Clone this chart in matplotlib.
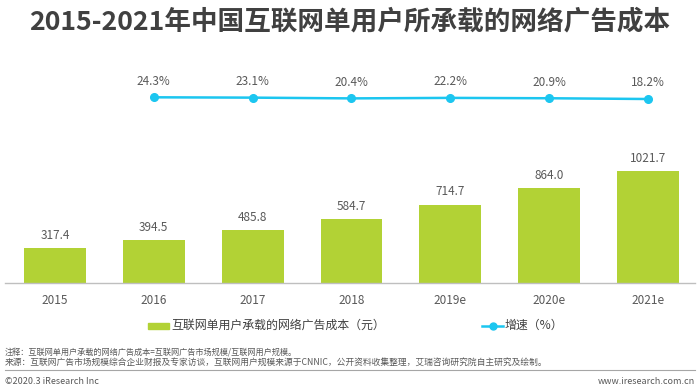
import matplotlib
matplotlib.use("Agg")
import matplotlib.pyplot as plt
from matplotlib.lines import Line2D

plt.rcParams['font.family'] = ['Noto Sans CJK SC', 'DejaVu Sans']

categories = ["2015", "2016", "2017", "2018", "2019e", "2020e", "2021e"]
cost = [317.4, 394.5, 485.8, 584.7, 714.7, 864.0, 1021.7]
growth_cats = ["2016", "2017", "2018", "2019e", "2020e", "2021e"]
growth = [24.3, 23.1, 20.4, 22.2, 20.9, 18.2]

title = "2015-2021年中国互联网单用户所承载的网络广告成本"
legend_bar = "互联网单用户承载的网络广告成本（元）"
legend_line = "增速（%）"
note1 = "注释：互联网单用户承载的网络广告成本=互联网广告市场规模/互联网用户规模。"
note2 = "来源：互联网广告市场规模综合企业财报及专家访谈，互联网用户规模来源于CNNIC，公开资料收集整理，艾瑞咨询研究院自主研究及绘制。"
footer_l = "©2020.3 iResearch Inc"
footer_r = "www.iresearch.com.cn"

GREEN = "#B2D235"
CYAN = "#1CC6F0"
W, H = 700, 387

fig = plt.figure(figsize=(7, 3.87), dpi=100)

def fx(p):
    return p / W

def fy(p):
    return 1 - p / H

# bar axes
x0, x1 = 5, 695
top, base = 150, 283
ax = fig.add_axes([fx(x0), fy(base), fx(x1 - x0), (base - top) / H])
xs = list(range(len(categories)))
ax.bar(xs, cost, width=0.627, color=GREEN, zorder=2)
ax.set_xlim(-0.506, 6.476)
ax.set_ylim(0, (base - top) / 0.1096)
for s in ["top", "right", "left"]:
    ax.spines[s].set_visible(False)
ax.spines["bottom"].set_color("#BFBFBF")
ax.spines["bottom"].set_linewidth(1.0)
ax.set_yticks([])
ax.set_xticks(xs)
ax.set_xticklabels(categories, fontsize=8.5, color="#595959")
ax.tick_params(axis="x", length=0, pad=8)
for x, v in zip(xs, cost):
    ax.annotate(f"{v:.1f}", (x, v), xytext=(0, 4.5), textcoords="offset points",
                ha="center", va="bottom", fontsize=8.5, color="#595959")

# line axes
ltop, lbot = 60, 115
ax2 = fig.add_axes([fx(x0), fy(lbot), fx(x1 - x0), (lbot - ltop) / H])
ax2.set_xlim(-0.506, 6.476)
k = 0.28
ref_v, ref_p = 24.3, 97.3
ax2.set_ylim(ref_v - (lbot - ref_p) / k, ref_v + (ref_p - ltop) / k)
gx = [categories.index(c) for c in growth_cats]
ax2.plot(gx, growth, color=CYAN, lw=1.8, marker="o", ms=5.5, zorder=3)
for x, v in zip(gx, growth):
    ax2.annotate(f"{v:.1f}%", (x, v), xytext=(0, 7), textcoords="offset points",
                 ha="center", va="bottom", fontsize=8.5, color="#595959")
ax2.axis("off")

# title
fig.text(0.5, fy(22), title, ha="center", va="center", fontsize=19.2,
         fontweight="bold", color="#404040")

# legend
fig.add_artist(plt.Rectangle((fx(148), fy(328.5)), fx(21), 5.5 / H,
                             color=GREEN, transform=fig.transFigure))
fig.text(fx(171), fy(325.5), legend_bar, ha="left", va="center",
         fontsize=8.6, color="#404040")
fig.add_artist(Line2D([fx(482), fx(503)], [fy(325.5), fy(325.5)],
                      color=CYAN, lw=1.8, transform=fig.transFigure))
fig.add_artist(Line2D([fx(492.5)], [fy(325.5)], color=CYAN, marker="o",
                      ms=5, transform=fig.transFigure))
fig.text(fx(505), fy(325.5), legend_line, ha="left", va="center",
         fontsize=8.6, color="#404040")

# notes
fig.text(fx(5), fy(351.5), note1, ha="left", va="center", fontsize=5.9, color="#595959")
fig.text(fx(5), fy(362.5), note2, ha="left", va="center", fontsize=6.3, color="#595959")
fig.add_artist(Line2D([fx(5), fx(695)], [fy(369.5), fy(369.5)], color="#A6A6A6",
                      lw=0.8, transform=fig.transFigure))
fig.text(fx(5), fy(381.5), footer_l, ha="left", va="center", fontsize=6.5, color="#595959")
fig.text(fx(695), fy(381.5), footer_r, ha="right", va="center", fontsize=6.5, color="#595959")

fig.savefig("out.png", dpi=100)
